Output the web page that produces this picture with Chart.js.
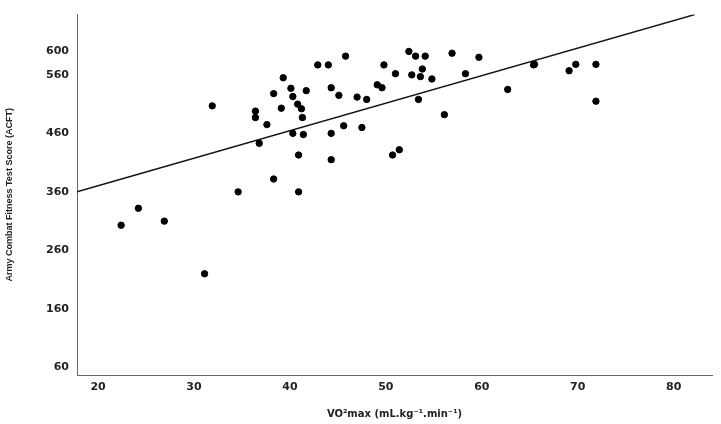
<!DOCTYPE html>
<html>
<head>
<script src="https://cdn.jsdelivr.net/npm/chart.js@4"></script>
<style>
  html, body { margin: 0; padding: 0; background: #fff; }
  #wrap { width: 721px; height: 424px; }
</style>
</head>
<body>
<div id="wrap"><canvas id="scatter"></canvas></div>
<script>
// VO2max values (x) and ACFT scores (y)
const vo2max = [22.4, 24.2, 26.9, 31.1, 31.9, 34.6, 36.4, 36.4, 36.8, 37.6, 38.3, 38.3, 39.3, 39.1,
  40.1, 40.3, 40.3, 40.8, 40.9, 40.9, 41.2, 41.3, 41.4, 41.7, 42.9, 44.0, 44.3, 44.3, 44.3, 45.1,
  45.6, 45.8, 47.0, 47.5, 48.0, 49.1, 49.6, 49.8, 50.7, 51.0, 51.4, 52.4, 52.7, 53.1, 53.4, 53.6,
  53.8, 54.1, 54.8, 56.1, 56.9, 58.3, 59.7, 62.7, 65.4, 65.5, 69.1, 69.8, 71.9, 71.9];
const acft = [303, 332, 310, 220, 507, 360, 498, 487, 443, 475, 528, 382, 555, 503,
  537, 523, 460, 510, 423, 360, 502, 487, 458, 533, 577, 577, 538, 460, 415, 525,
  473, 592, 522, 470, 518, 543, 538, 577, 423, 562, 432, 600, 560, 592, 518, 557,
  570, 592, 553, 492, 597, 562, 590, 535, 577, 578, 567, 578, 578, 515];
// fit line end points
const fitX = [17.8, 82.2];
const fitY = [360, 663];
const xTicks = [20, 30, 40, 50, 60, 70, 80];
const yTicks = [60, 160, 260, 360, 460, 560, 600];

const points = vo2max.map((v, i) => ({ x: v, y: acft[i] }));
const fit = fitX.map((v, i) => ({ x: v, y: fitY[i] }));

new Chart(document.getElementById('scatter'), {
  type: 'scatter',
  data: {
    datasets: [
      { data: points, backgroundColor: '#000', borderColor: '#000', pointRadius: 3.2, pointStyle: 'ellipse' },
      { type: 'line', data: fit, borderColor: '#111', borderWidth: 1.5, pointRadius: 0, fill: false }
    ]
  },
  options: {
    responsive: true,
    maintainAspectRatio: false,
    animation: false,
    layout: { padding: { left: 0, right: 9, top: -4, bottom: 0 } },
    plugins: { legend: { display: false }, tooltip: { enabled: false } },
    scales: {
      x: {
        type: 'linear', min: 17.8, max: 84,
        afterBuildTicks: s => { s.ticks = xTicks.map(v => ({ value: v })); },
        afterFit: s => { s.height = 49; },
        grid: { display: false, drawTicks: false },
        border: { color: '#666', width: 1 },
        ticks: { color: '#222', font: { family: 'DejaVu Sans', size: 11, weight: 'bold' }, padding: 6 },
        title: { display: true, text: 'VO²max (mL.kg⁻¹.min⁻¹)', color: '#222',
          font: { family: 'DejaVu Sans', size: 10, weight: 'bold' }, padding: { top: 14 } }
      },
      y: {
        type: 'linear', min: 47, max: 663,
        afterBuildTicks: s => { s.ticks = yTicks.map(v => ({ value: v })); },
        afterFit: s => { s.width = 77; },
        grid: { display: false, drawTicks: false },
        border: { color: '#666', width: 1 },
        ticks: { color: '#222', font: { family: 'DejaVu Sans', size: 11, weight: 'bold' }, padding: 8 },
        title: { display: true, text: 'Army Combat Fitness Test Score (ACFT)', color: '#222',
          font: { family: 'Liberation Sans', size: 9, weight: 'bold' }, padding: { bottom: 10 } }
      }
    }
  }
});
</script>
</body>
</html>
